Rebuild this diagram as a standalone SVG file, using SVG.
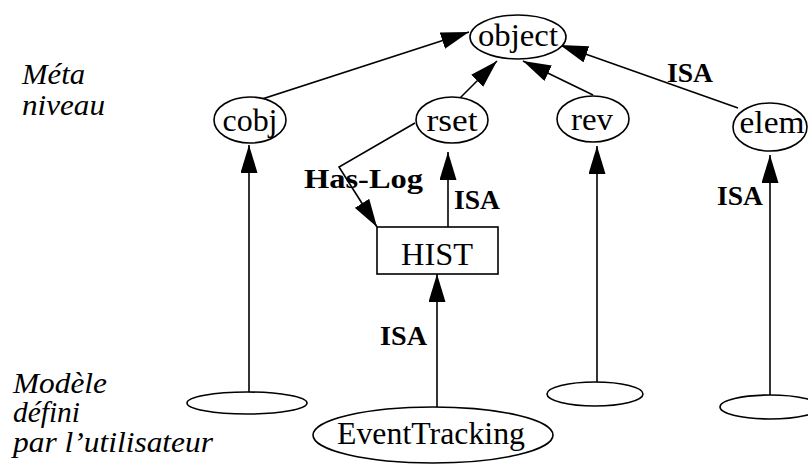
<svg xmlns="http://www.w3.org/2000/svg" width="808" height="465" viewBox="0 0 808 465" font-family="Liberation Serif, DejaVu Serif, serif">
<style>
.n{fill:#fff;stroke:#000;stroke-width:1.6}
.t{font-size:32px;fill:#000;text-anchor:middle}
.b{font-size:27px;font-weight:bold;fill:#000}
.i{font-size:29px;font-style:italic;fill:#000}
.e{fill:none;stroke:#000;stroke-width:1.6;marker-end:url(#ah)}
</style>
<defs>
<marker id="ah" markerUnits="userSpaceOnUse" markerWidth="28" markerHeight="17" refX="28" refY="8.5" orient="auto">
<path d="M0,0 L28,8.5 L0,17 Z" fill="#000"/>
</marker>
</defs>
<rect width="808" height="465" fill="#fff"/>
<g id="labels-levels">
<text class="i" x="22" y="84" textLength="63" lengthAdjust="spacingAndGlyphs">Méta</text>
<text class="i" x="22" y="115" textLength="83" lengthAdjust="spacingAndGlyphs">niveau</text>
<text class="i" x="13" y="393" textLength="94" lengthAdjust="spacingAndGlyphs">Modèle</text>
<text class="i" x="13" y="422" textLength="67" lengthAdjust="spacingAndGlyphs">défini</text>
<text class="i" x="13" y="452" textLength="200" lengthAdjust="spacingAndGlyphs">par l’utilisateur</text>
</g>
<g id="connectors">
<line class="e" x1="250" y1="103" x2="469" y2="32"/>
<line class="e" x1="460" y1="98" x2="497" y2="61"/>
<line class="e" x1="593" y1="95" x2="523" y2="61"/>
<line class="e" x1="738" y1="108" x2="560" y2="45"/>
<polyline class="e" points="415,123 339,167 377,227"/>
<line class="e" x1="448" y1="227" x2="448" y2="152"/>
<line class="e" x1="437" y1="407" x2="437" y2="274"/>
<line class="e" x1="249" y1="392" x2="249" y2="145"/>
<line class="e" x1="597" y1="382" x2="597" y2="146"/>
<line class="e" x1="770" y1="395" x2="770" y2="155"/>
<text class="b" x="667" y="82" textLength="46" lengthAdjust="spacingAndGlyphs">ISA</text>
<text class="b" x="304" y="188" textLength="119" lengthAdjust="spacingAndGlyphs">Has-Log</text>
<text class="b" x="454" y="209" textLength="46" lengthAdjust="spacingAndGlyphs">ISA</text>
<text class="b" x="380" y="345" textLength="47" lengthAdjust="spacingAndGlyphs">ISA</text>
<text class="b" x="717" y="205" textLength="46" lengthAdjust="spacingAndGlyphs">ISA</text>
</g>
<g id="object">
<ellipse class="n" cx="518" cy="37" rx="48" ry="22"/>
<text class="t" x="518" y="46" textLength="80" lengthAdjust="spacingAndGlyphs">object</text>
</g>
<g id="cobj">
<ellipse class="n" cx="250" cy="120" rx="36" ry="23"/>
<text class="t" x="250" y="131" textLength="55" lengthAdjust="spacingAndGlyphs">cobj</text>
</g>
<g id="rset">
<ellipse class="n" cx="452" cy="120" rx="36" ry="23"/>
<text class="t" x="452" y="131" textLength="51" lengthAdjust="spacingAndGlyphs">rset</text>
</g>
<g id="rev">
<ellipse class="n" cx="593" cy="119" rx="36" ry="23"/>
<text class="t" x="592" y="130" textLength="42" lengthAdjust="spacingAndGlyphs">rev</text>
</g>
<g id="elem">
<ellipse class="n" cx="770" cy="127" rx="37" ry="24"/>
<text class="t" x="772" y="133" textLength="65" lengthAdjust="spacingAndGlyphs">elem</text>
</g>
<g id="HIST">
<rect class="n" x="377" y="227" width="121" height="47"/>
<text class="t" x="437" y="265" textLength="72" lengthAdjust="spacingAndGlyphs">HIST</text>
</g>
<g id="user-cobj">
<ellipse class="n" cx="247" cy="403" rx="60" ry="11"/>
</g>
<g id="EventTracking">
<ellipse class="n" cx="433" cy="435" rx="120" ry="28"/>
<text class="t" x="431" y="444" textLength="188" lengthAdjust="spacingAndGlyphs">EventTracking</text>
</g>
<g id="user-rev">
<ellipse class="n" cx="595" cy="394" rx="48" ry="12"/>
</g>
<g id="user-elem">
<ellipse class="n" cx="770" cy="407" rx="50" ry="12"/>
</g>
</svg>
